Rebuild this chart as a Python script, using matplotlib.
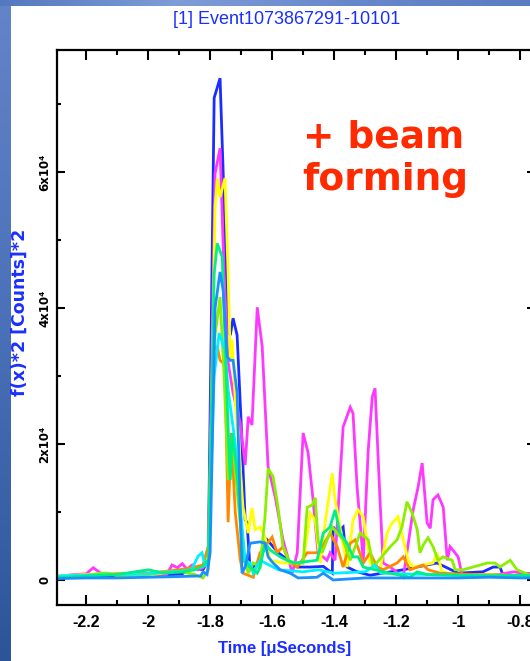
import numpy as np
import matplotlib
matplotlib.use("Agg")
import matplotlib.pyplot as plt
from matplotlib.ticker import MultipleLocator, FuncFormatter
from matplotlib.colors import LinearSegmentedColormap

# ---------------- data (time in microseconds, power in counts^2) ----------------
blue_x = [-2.294, -2.2, -2.1, -2.042, -2.003, -1.95, -1.89, -1.86, -1.823, -1.806, -1.787, -1.768,
          -1.758, -1.742, -1.735, -1.726, -1.713, -1.700, -1.687, -1.681, -1.671, -1.639, -1.616,
          -1.58, -1.519, -1.477, -1.435, -1.406, -1.403, -1.39, -1.371, -1.358, -1.326, -1.284,
          -1.177, -1.068, -1.0, -0.92, -0.887, -0.865, -0.855, -0.8, -0.735]
blue_y = [400, 500, 600, 1100, 1000, 700, 900, 1800, 1500, 3000, 70900, 73800,
          60000, 36500, 36000, 38500, 36000, 23200, 8800, 8500, 1500, 2900, 5900,
          4000, 1900, 1900, 2000, 1000, 7800, 7000, 7800, 1900, 1200, 700,
          1500, 2500, 1000, 1200, 1900, 1900, 700, 600, 500]

magenta_x = [-2.294, -2.24, -2.2, -2.177, -2.15, -2.0, -1.94, -1.923, -1.905, -1.89, -1.875, -1.858,
             -1.84, -1.823, -1.806, -1.784, -1.768, -1.755, -1.742, -1.726, -1.703, -1.687, -1.677,
             -1.665, -1.648, -1.632, -1.613, -1.590, -1.565, -1.535, -1.519, -1.500, -1.484, -1.468,
             -1.452, -1.423, -1.413, -1.397, -1.371, -1.348, -1.339, -1.326, -1.306, -1.290, -1.277,
             -1.268, -1.252, -1.242, -1.219, -1.177, -1.145, -1.129, -1.116, -1.100, -1.090, -1.081,
             -1.065, -1.048, -1.035, -1.026, -1.010, -1.000, -0.987, -0.93, -0.87, -0.82, -0.79, -0.735]
magenta_y = [500, 800, 900, 1800, 900, 700, 800, 2200, 1800, 2400, 1600, 2200,
             1500, 1800, 3000, 59800, 63500, 45000, 32000, 27500, 23100, 16900, 24000,
             22800, 40100, 34300, 16600, 12200, 5900, 1000, 4000, 21600, 18700, 11800,
             4000, 2900, 4000, 2900, 22500, 25400, 24500, 13700, 2900, 19100, 26900,
             28200, 11800, 2500, 1900, 400, 10300, 13700, 17200, 8400, 7600, 11800,
             12500, 10700, 2900, 4900, 4000, 3400, 700, 600, 800, 1200, 1000, 900]

yellow_x = [-2.294, -2.2, -2.1, -2.0, -1.92, -1.86, -1.823, -1.803, -1.784, -1.777, -1.768, -1.752,
            -1.742, -1.735, -1.729, -1.719, -1.703, -1.694, -1.677, -1.665, -1.655, -1.639, -1.623,
            -1.606, -1.565, -1.500, -1.477, -1.461, -1.445, -1.429, -1.406, -1.397, -1.381, -1.358,
            -1.339, -1.323, -1.306, -1.284, -1.252, -1.229, -1.213, -1.194, -1.177, -1.161, -1.145,
            -1.081, -1.068, -1.052, -1.0, -0.9, -0.8, -0.735]
yellow_y = [600, 800, 1000, 700, 1200, 1500, 2000, 4000, 55000, 59100, 56300, 59100,
            45000, 32300, 35300, 26500, 16600, 10700, 6900, 10600, 7400, 7800, 6300,
            2900, 2500, 2500, 9800, 8800, 2500, 8400, 15700, 11800, 7800, 1900,
            8800, 10300, 9300, 2500, 1500, 6900, 8400, 9300, 5900, 2900, 1900,
            2500, 4000, 1200, 700, 800, 600, 500]

orange_x = [-2.294, -2.2, -2.1, -2.0, -1.9, -1.85, -1.823, -1.806, -1.790, -1.777, -1.768, -1.758,
            -1.752, -1.742, -1.732, -1.719, -1.703, -1.694, -1.661, -1.639, -1.623, -1.600, -1.584,
            -1.565, -1.548, -1.519, -1.487, -1.45, -1.413, -1.390, -1.371, -1.348, -1.332, -1.306,
            -1.284, -1.261, -1.242, -1.197, -1.177, -1.155, -1.113, -1.097, -1.058, -0.95, -0.85, -0.735]
orange_y = [400, 700, 900, 1000, 1500, 1900, 2200, 5000, 34000, 34300, 32300, 31900,
            31900, 8500, 21600, 10000, 3000, 1000, 400, 4000, 4900, 6300, 4000,
            4900, 2900, 1900, 4000, 4000, 6900, 4900, 1900, 5400, 5900, 2500,
            4000, 1900, 1500, 2500, 3400, 1500, 2200, 1500, 1000, 800, 700, 600]

chartreuse_x = [-2.294, -2.2, -2.155, -2.129, -2.1, -2.0, -1.945, -1.89, -1.85, -1.823, -1.806, -1.787,
                -1.768, -1.755, -1.742, -1.729, -1.719, -1.694, -1.677, -1.661, -1.639, -1.623, -1.613,
                -1.597, -1.581, -1.565, -1.542, -1.5, -1.487, -1.471, -1.461, -1.452, -1.439, -1.406,
                -1.390, -1.371, -1.348, -1.316, -1.290, -1.274, -1.219, -1.197, -1.181, -1.165, -1.148,
                -1.132, -1.123, -1.113, -1.097, -1.081, -1.065, -1.048, -1.019, -1.010, -0.984, -0.929,
                -0.906, -0.881, -0.865, -0.832, -0.810, -0.768, -0.735]
chartreuse_y = [300, 600, 1000, 1000, 600, 800, 1200, 1200, 800, 300, 1500, 35000,
                41600, 30000, 14700, 21000, 16000, 4000, 1000, 2500, 1900, 9300, 16400,
                15200, 10700, 4900, 2500, 2500, 10700, 11000, 12100, 5900, 4000, 7800,
                6900, 5900, 2900, 6900, 5900, 1900, 4900, 5900, 7800, 11500, 9800,
                7400, 4000, 5100, 6200, 4900, 2900, 3400, 2900, 1500, 1500, 2200,
                2500, 2500, 1900, 2900, 1500, 700, 600]

cyan_x = [-2.294, -2.2, -2.1, -2.0, -1.92, -1.86, -1.839, -1.826, -1.816, -1.806, -1.787, -1.771,
          -1.752, -1.742, -1.719, -1.703, -1.687, -1.671, -1.661, -1.639, -1.58, -1.5, -1.45,
          -1.4, -1.3, -1.268, -1.25, -1.1, -1.0, -0.9, -0.735]
cyan_y = [600, 700, 800, 900, 1200, 1500, 3500, 4000, 2000, 3000, 30000, 36300,
          33800, 28000, 20000, 10700, 2900, 2500, 1000, 2900, 1500, 1200, 1500,
          1000, 1200, 2200, 1000, 800, 700, 600, 600]

spring_x = [-2.294, -2.2, -2.1, -2.0, -1.95, -1.89, -1.85, -1.823, -1.806, -1.787, -1.777, -1.761,
            -1.748, -1.742, -1.735, -1.729, -1.719, -1.710, -1.694, -1.671, -1.648, -1.639, -1.623,
            -1.606, -1.574, -1.552, -1.526, -1.455, -1.435, -1.413, -1.397, -1.381, -1.358, -1.339,
            -1.323, -1.306, -1.22, -1.155, -1.132, -1.1, -1.0, -0.9, -0.8, -0.735]
spring_y = [300, 600, 800, 1500, 1000, 1200, 1500, 2000, 3000, 45000, 49500, 47500,
            30000, 22500, 14700, 21600, 18100, 13700, 2900, 1900, 1000, 1900, 5400,
            4400, 3400, 2900, 2500, 2900, 6900, 7800, 10300, 6900, 5400, 3400,
            3400, 1900, 1000, 400, 1200, 800, 700, 600, 700, 600]

azure_x = [-2.294, -2.2, -2.1, -2.0, -1.9, -1.83, -1.823, -1.81, -1.800, -1.784, -1.768, -1.758,
           -1.745, -1.735, -1.726, -1.713, -1.697, -1.687, -1.671, -1.639, -1.623, -1.613, -1.597,
           -1.574, -1.542, -1.516, -1.455, -1.435, -1.403, -1.3, -1.2, -1.1, -1.0, -0.9, -0.8, -0.735]
azure_y = [200, 300, 300, 400, 500, 600, 1200, 800, 4000, 40000, 45300, 42600,
           32800, 32300, 32300, 27500, 1000, 1900, 5400, 5600, 5400, 3400, 2500,
           1500, 1000, 300, 400, 1000, 0, 300, 300, 300, 300, 400, 300, 300]

series = [
    (blue_x, blue_y, "#1a2eff"),
    (magenta_x, magenta_y, "#ff38ff"),
    (yellow_x, yellow_y, "#ffff00"),
    (orange_x, orange_y, "#ff8800"),
    (chartreuse_x, chartreuse_y, "#8cee00"),
    (cyan_x, cyan_y, "#00f0ff"),
    (spring_x, spring_y, "#00ee88"),
    (azure_x, azure_y, "#1a90ff"),
]

title_text = "[1] Event1073867291-10101"
xlabel_text = "Time [\u03bcSeconds]"
ylabel_text = "f(x)*2 [Counts]*2"
annot_line1 = "+ beam"
annot_line2 = "forming"

# ---------------- figure ----------------
W, H = 530, 661
fig = plt.figure(figsize=(W / 100, H / 100), dpi=100)
fig.patch.set_facecolor("white")

narrow = ["Liberation Sans", "DejaVu Sans"]

# slide background strips (gradient)
bl = fig.add_axes([0, 0, 11 / W, 1])
cm_v = LinearSegmentedColormap.from_list("v", ["#2c5598", "#4a70b8", "#6384c8"])
bl.imshow(np.linspace(0, 1, 256)[:, None], aspect="auto", cmap=cm_v, origin="lower",
          extent=[0, 1, 0, 1])
bl.axis("off")
bt = fig.add_axes([0, 1 - 6 / H, 1, 6 / H])
cm_h = LinearSegmentedColormap.from_list("h", ["#5478bf", "#7f9cd8", "#6888cc", "#5a7cc2"])
bt.imshow(np.linspace(0, 1, 256)[None, :], aspect="auto", cmap=cm_h, extent=[0, 1, 0, 1])
bt.axis("off")

# main axes
left, right, bottom, top = 57, 535, 605, 50
ax = fig.add_axes([left / W, 1 - bottom / H, (right - left) / W, (bottom - top) / H])
for x, y, c in series:
    ax.plot(x, y, color=c, lw=2.0, solid_joinstyle="miter")

ax.set_xlim(-2.294, -0.752)
ax.set_ylim(-3680, 77940)

ax.xaxis.set_major_locator(MultipleLocator(0.2))
ax.xaxis.set_minor_locator(MultipleLocator(0.1))
ax.yaxis.set_major_locator(MultipleLocator(20000))
ax.yaxis.set_minor_locator(MultipleLocator(10000))

def xfmt(v, pos):
    return "%g" % round(v, 1)

def yfmt(v, pos):
    if abs(v) < 1:
        return "0"
    return "%dx10\u2074" % round(v / 1e4)

ax.xaxis.set_major_formatter(FuncFormatter(xfmt))
ax.yaxis.set_major_formatter(FuncFormatter(yfmt))

ax.tick_params(axis="both", which="both", direction="in", top=True, right=True, colors="black")
ax.tick_params(axis="x", which="major", length=7, width=1.5, pad=7)
ax.tick_params(axis="x", which="minor", length=3.5, width=1.5)
ax.tick_params(axis="y", which="major", length=6, width=1.5, pad=4)
ax.tick_params(axis="y", which="minor", length=3, width=1.5)
for lab in ax.get_xticklabels():
    lab.set_family(narrow)
    lab.set_fontweight("bold")
    lab.set_fontsize(11.5)
for lab in ax.get_yticklabels():
    lab.set_fontweight("bold")
    lab.set_fontsize(8.5)
    lab.set_rotation(90)
    lab.set_va("center")
for sp in ax.spines.values():
    sp.set_linewidth(1.6)
    sp.set_color("black")

# texts
fig.text(287 / W, 1 - 20 / H, title_text, color="#1a2eff", fontsize=13, ha="center",
         va="center", family=narrow)
fig.text(285 / W, 1 - 648 / H, xlabel_text, color="#1a2eff", fontsize=12, ha="center",
         va="center", family=narrow, fontweight="bold")
fig.text(20 / W, 1 - 312 / H, ylabel_text, color="#1a2eff", fontsize=12.5, ha="center",
         va="center", rotation=90, fontweight="bold")
fig.text(303 / W, 1 - 147 / H, annot_line1, color="#ff2a00", fontsize=27, fontweight="bold",
         ha="left", va="baseline")
fig.text(302 / W, 1 - 190 / H, annot_line2, color="#ff2a00", fontsize=27, fontweight="bold",
         ha="left", va="baseline")

fig.savefig("out.png", dpi=100)
